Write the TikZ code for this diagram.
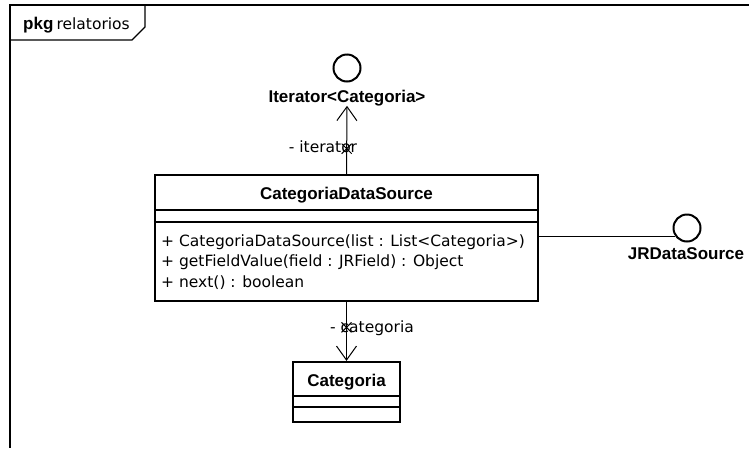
\documentclass[tikz,border=0pt]{standalone}
\usepackage{fontspec}
\setmainfont{DejaVu Sans}
\newfontfamily\boldface{Liberation Sans}
\usetikzlibrary{arrows.meta,positioning,shapes.misc}
\newcommand\opfont{\fontsize{15.5}{20.5}\selectfont}
\newcommand\namefont{\boldface\bfseries\fontsize{17}{20}\selectfont}
\tikzset{x=1pt, y=-1pt, % one unit is one pixel of the diagram
>={Straight Barb[length=14pt,width=20pt]}, % open arrow heads of UML
frame/.style={line width=1.4pt}, % package border
classbox/.style={draw, line width=2.2pt, fill=white, inner sep=0pt},
classline/.style={line width=1.4pt},
iface/.style={circle, draw, line width=2pt, minimum size=27pt, inner sep=0pt}, % lollipop
}

\begin{document}
\begin{tikzpicture}[
	assoc/.style={->, line width=1pt},
	navx/.style={cross out, draw, minimum size=9pt, inner sep=0pt, line width=1pt},
	rolelabel/.style={font=\opfont, anchor=base, inner sep=0pt},
	cname/.style={font=\namefont, anchor=base, inner sep=0pt}]
\useasboundingbox (0,0) rectangle (749,448);
% package frame and its tab
\draw[frame] (749,5) -- (10,5) -- (10,448);
\draw[frame] (10,40) -- (132,40) -- (145,27) -- (145,5);
\node[anchor=base west, inner sep=0pt] (pkg) at (23,29) {{\namefont pkg} {\opfont relatorios}};
% classes
\node[classbox, minimum width=383pt, minimum height=126pt] (cds) at (346.5,238) {};
\node[cname] (cdsname) at (346.5,199) {CategoriaDataSource};
\draw[classline] ([yshift=-36pt]cds.north west) -- ([yshift=-36pt]cds.north east);
\draw[classline] ([yshift=-48pt]cds.north west) -- ([yshift=-48pt]cds.north east);
\node[font=\opfont, anchor=base west, inner sep=0pt] (op1) at (161,246) {+ CategoriaDataSource(list : List<Categoria>)};
\node[font=\opfont, anchor=base west, inner sep=0pt] (op2) at (161,266.5) {+ getFieldValue(field : JRField) : Object};
\node[font=\opfont, anchor=base west, inner sep=0pt] (op3) at (161,287) {+ next() : boolean};
\node[classbox, minimum width=107pt, minimum height=60pt] (cat) at (346.5,392) {};
\node[cname] (catname) at (346.5,386) {Categoria};
\draw[classline] ([yshift=-35pt]cat.north west) -- ([yshift=-35pt]cat.north east);
\draw[classline] ([yshift=-46pt]cat.north west) -- ([yshift=-46pt]cat.north east);
% interfaces
\node[iface] (itcirc) at (347,68) {};
\node[cname] (itname) at (347,102) {Iterator<Categoria>};
\node[iface] (jrcirc) at (687,228) {};
\node[cname] (jrname) at (686,259) {JRDataSource};
% connectors
\draw[assoc] (cds.north) -- node[navx, pos=0.37] (itx) {} (itname.south);
\node[rolelabel] (itrole) at (323,152) {- iterator};
\draw[assoc] (cds.south) -- node[navx, pos=0.43] (catx) {} (cat.north);
\node[rolelabel] (catrole) at (372,332) {- categoria};
\draw[line width=1pt] (cds.east |- jrcirc.215) -- (jrcirc.215);
\end{tikzpicture}
\end{document}
